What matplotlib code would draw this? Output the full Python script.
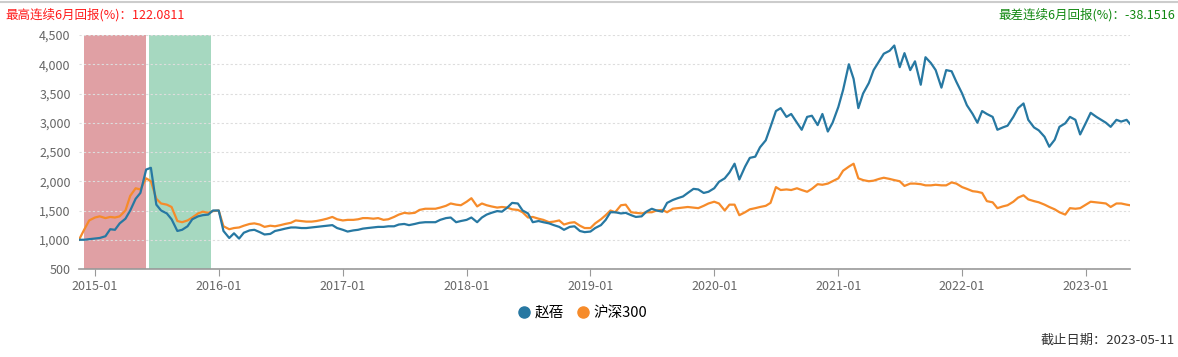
import numpy as np
import pandas as pd
import matplotlib
matplotlib.use("Agg")
import matplotlib.pyplot as plt
import matplotlib.dates as mdates
from matplotlib.lines import Line2D

plt.rcParams['font.family'] = ['Noto Sans CJK SC', 'DejaVu Sans']

# 半月取样 (每月1日和15日), 最后一点为截止日
dates = list(pd.date_range('2014-11-15', '2023-05-01', freq='SMS')) + [pd.Timestamp('2023-05-11')]

fund = [
    1000, 1000, 1010,
    # 2015
    1020, 1030, 1060, 1180, 1170, 1280, 1360, 1500, 1700, 1800, 2200, 2230,
    1600, 1500, 1450, 1350, 1150, 1170, 1230, 1350, 1400, 1420, 1430, 1500,
    # 2016
    1500, 1150, 1030, 1110, 1020, 1120, 1160, 1170, 1130, 1090, 1100, 1150,
    1170, 1190, 1210, 1210, 1200, 1200, 1210, 1220, 1230, 1240, 1250, 1200,
    # 2017
    1170, 1140, 1160, 1170, 1190, 1200, 1210, 1220, 1220, 1230, 1230, 1260,
    1270, 1250, 1270, 1290, 1300, 1300, 1300, 1340, 1370, 1380, 1300, 1320,
    # 2018
    1340, 1380, 1300, 1380, 1430, 1460, 1490, 1480, 1550, 1630, 1620, 1500,
    1450, 1300, 1320, 1300, 1280, 1250, 1220, 1170, 1220, 1230, 1150, 1130,
    # 2019
    1140, 1200, 1250, 1340, 1470, 1470, 1450, 1460, 1420, 1390, 1400, 1480,
    1530, 1500, 1480, 1630, 1680, 1710, 1740, 1800, 1870, 1860, 1800, 1820,
    # 2020
    1880, 1990, 2050, 2150, 2300, 2030, 2250, 2400, 2420, 2580, 2700, 2930,
    3200, 3250, 3100, 3150, 3000, 2880, 3100, 3120, 2960, 3150, 2850, 3000,
    # 2021
    3270, 3560, 4000, 3750, 3250, 3500, 3680, 3900, 4050, 4180, 4230, 4320,
    3950, 4190, 3900, 4050, 3650, 4120, 4020, 3900, 3600, 3900, 3880, 3700,
    # 2022
    3500, 3300, 3150, 3000, 3200, 3150, 3100, 2880, 2920, 2950, 3100, 3250,
    3330, 3050, 2920, 2870, 2760, 2590, 2710, 2930, 2990, 3100, 3050, 2800,
    # 2023
    3000, 3170, 3100, 3050, 3000, 2930, 3050, 3020, 3050, 2980,
]

hs300 = [
    1000, 1180, 1330,
    # 2015
    1380, 1400, 1370, 1390, 1380, 1400, 1500, 1750, 1880, 1860, 2050, 2000,
    1700, 1620, 1600, 1560, 1320, 1300, 1330, 1380, 1450, 1480, 1460, 1490,
    # 2016
    1500, 1230, 1180, 1200, 1210, 1240, 1270, 1280, 1260, 1220, 1240, 1230,
    1250, 1270, 1290, 1330, 1320, 1310, 1310, 1320, 1340, 1360, 1390, 1350,
    # 2017
    1330, 1340, 1340, 1350, 1370, 1370, 1360, 1370, 1340, 1350, 1390, 1430,
    1460, 1450, 1460, 1510, 1530, 1530, 1530, 1550, 1580, 1620, 1600, 1590,
    # 2018
    1650, 1710, 1570, 1620, 1590, 1570, 1550, 1560, 1550, 1520, 1510, 1470,
    1380, 1390, 1360, 1340, 1300, 1310, 1330, 1260, 1290, 1300, 1240, 1200,
    # 2019
    1200, 1280, 1350, 1420, 1500, 1470, 1590, 1600, 1470, 1460, 1450, 1470,
    1470, 1500, 1510, 1470, 1530, 1540, 1550, 1560, 1550, 1540, 1580, 1620,
    # 2020
    1650, 1620, 1500, 1600, 1600, 1420, 1470, 1520, 1540, 1560, 1580, 1630,
    1900, 1850, 1860, 1850, 1880, 1850, 1820, 1870, 1950, 1940, 1960, 2000,
    # 2021
    2050, 2180, 2250, 2300, 2050, 2020, 2000, 2010, 2040, 2060, 2040, 2020,
    2000, 1920, 1960, 1960, 1950, 1930, 1930, 1940, 1930, 1930, 1980, 1960,
    # 2022
    1900, 1870, 1830, 1820, 1800, 1660, 1640, 1540, 1570, 1590, 1650, 1720,
    1760, 1690, 1660, 1640, 1600, 1560, 1520, 1470, 1430, 1540, 1530, 1540,
    # 2023
    1600, 1650, 1640, 1630, 1620, 1560, 1620, 1620, 1600, 1590,
]

best_span = ('2014-12-01', '2015-06-01')
worst_span = ('2015-06-09', '2015-12-08')
best_text = '最高连续6月回报(%)：122.0811'
worst_text = '最差连续6月回报(%)：-38.1516'
end_text = '截止日期：2023-05-11'
names = ['赵蓓', '沪深300']

blue = '#2778a2'
orange = '#f68b2a'

fig = plt.figure(figsize=(11.78, 3.57), dpi=100)
ax = fig.add_axes([79 / 1178, 1 - 269 / 357, (1130 - 79) / 1178, (269 - 35) / 357])

ax.axvspan(pd.Timestamp(best_span[0]), pd.Timestamp(best_span[1]), color='#e0a0a4', lw=0, zorder=1)
ax.axvspan(pd.Timestamp(worst_span[0]), pd.Timestamp(worst_span[1]), color='#a6d8c0', lw=0, zorder=1)

ax.plot(dates, hs300, color=orange, lw=1.6, zorder=3)
ax.plot(dates, fund, color=blue, lw=1.6, zorder=4)

ax.set_xlim(dates[0], dates[-1])
ax.set_ylim(500, 4500)
ax.set_yticks(np.arange(500, 4501, 500))
ax.yaxis.set_major_formatter(matplotlib.ticker.StrMethodFormatter('{x:,.0f}'))
ax.xaxis.set_major_locator(mdates.YearLocator())
ax.xaxis.set_major_formatter(mdates.DateFormatter('%Y-%m'))

ax.grid(axis='y', color='#dddddd', ls=(0, (2, 2)), lw=0.8, zorder=0)
for s in ['top', 'right', 'left']:
    ax.spines[s].set_visible(False)
ax.spines['bottom'].set_color('#999999')
ax.spines['bottom'].set_linewidth(1.2)
ax.tick_params(axis='y', length=0, labelsize=9, labelcolor='#666666', pad=6)
ax.tick_params(axis='x', length=5, color='#999999', labelsize=9, labelcolor='#666666', pad=3)

fig.add_artist(Line2D([0, 1], [1 - 2 / 357, 1 - 2 / 357], color='#cccccc', lw=1.5))
fig.text(5 / 1178, 1 - 15 / 357, best_text, color='#ff1a1a', fontsize=9, va='center', ha='left')
fig.text(1175 / 1178, 1 - 15 / 357, worst_text, color='#118811', fontsize=9, va='center', ha='right')
fig.text(1175 / 1178, 1 - 340 / 357, end_text, color='#333333', fontsize=9.5, va='center', ha='right')

handles = [Line2D([], [], marker='o', ls='none', color=blue, markersize=8),
           Line2D([], [], marker='o', ls='none', color=orange, markersize=8)]
fig.legend(handles, names, loc='center', bbox_to_anchor=(582 / 1178, 1 - 313 / 357), ncol=2,
           frameon=False, fontsize=10.5, handletextpad=0.2, columnspacing=0.8, handlelength=1.0)

fig.savefig('out.png', dpi=100)
